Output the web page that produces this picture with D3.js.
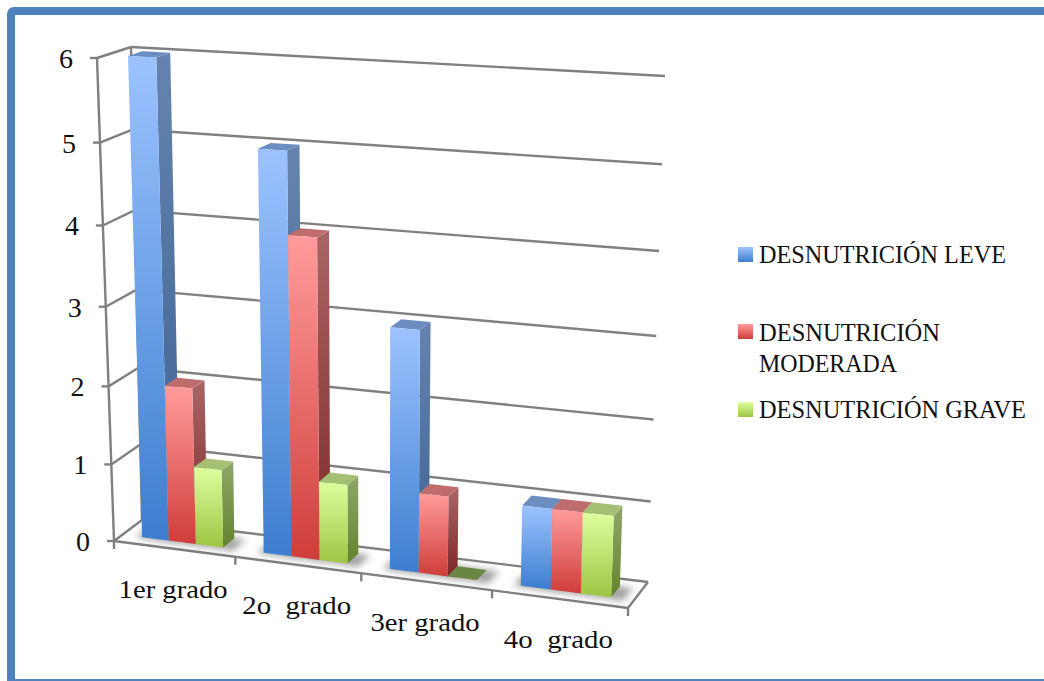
<!DOCTYPE html>
<html>
<head>
<meta charset="utf-8">
<title>Desnutrición por grado</title>
<script src="https://cdn.jsdelivr.net/npm/d3@7"></script>
<style>
  html, body { margin: 0; padding: 0; background: #fff; }
  svg { display: block; }
  text { font-family: "Liberation Serif", serif; fill: #111; }
</style>
</head>
<body>
<svg id="chart" width="1044" height="681"></svg>
<script>
// Chart values
const categories = ["1er grado", "2o  grado", "3er grado", "4o  grado"];
const seriesNames = ["DESNUTRICIÓN LEVE", "DESNUTRICIÓN MODERADA", "DESNUTRICIÓN GRAVE"];
const leve = [6, 5, 3, 1];
const moderada = [2, 4, 1, 1];
const grave = [1, 1, 0, 1];
const valueTicks = [0, 1, 2, 3, 4, 5, 6];

const seriesValues = [leve, moderada, grave];

// Face colours for each series: front gradient, side gradient, top
const palette = [
  { front: ["#9cc3ff", "#3d7ecf"], side: ["#6583ae", "#3b6293"], top: "#6c8dbf" },
  { front: ["#ff9c9b", "#cf3d3a"], side: ["#a86665", "#7d2827"], top: "#bf6d6c" },
  { front: ["#deff9f", "#9dc543"], side: ["#8fa76a", "#63842d"], top: "#a5bf74" }
];
const flatTop = "#6b8542";

const svg = d3.select("#chart");
const defs = svg.append("defs");

// Vertical gradients, one pair per series
palette.forEach((p, i) => {
  ["front", "side"].forEach(face => {
    const g = defs.append("linearGradient")
      .attr("id", `${face}${i}`)
      .attr("x1", 0).attr("y1", 0).attr("x2", 0).attr("y2", 1);
    g.append("stop").attr("offset", "0%").attr("stop-color", p[face][0]);
    g.append("stop").attr("offset", "100%").attr("stop-color", p[face][1]);
  });
});
defs.append("filter").attr("id", "soft")
  .attr("x", "-40%").attr("y", "-80%").attr("width", "180%").attr("height", "260%")
  .append("feGaussianBlur").attr("stdDeviation", 3.5);

// Page frame
svg.append("rect")
  .attr("x", 11).attr("y", 11)
  .attr("width", 1100).attr("height", 672)
  .attr("rx", 3)
  .attr("fill", "#fff")
  .attr("stroke", "#4f81bd")
  .attr("stroke-width", 8);

// Perspective map from the unit square onto a screen quad
function quadMap(p00, p10, p11, p01) {
  const dx1 = p10[0] - p11[0], dx2 = p01[0] - p11[0], sx = p00[0] - p10[0] + p11[0] - p01[0];
  const dy1 = p10[1] - p11[1], dy2 = p01[1] - p11[1], sy = p00[1] - p10[1] + p11[1] - p01[1];
  const det = dx1 * dy2 - dx2 * dy1;
  const g = (sx * dy2 - dx2 * sy) / det;
  const h = (dx1 * sy - sx * dy1) / det;
  const a = p10[0] - p00[0] + g * p10[0], b = p01[0] - p00[0] + h * p01[0], c = p00[0];
  const d = p10[1] - p00[1] + g * p10[1], e = p01[1] - p00[1] + h * p01[1], f = p00[1];
  return (u, v) => {
    const w = g * u + h * v + 1;
    return [(a * u + b * v + c) / w, (d * u + e * v + f) / w];
  };
}

// Front and back planes of the plot box: (along category axis, up value axis)
const frontPlane = quadMap([114, 541], [628, 608], [644, 89], [97, 58]);
const backPlane = quadMap([142, 520], [648, 582], [665, 76], [131, 47]);

const project = (s, v, d) => {
  const a = frontPlane(s, v), b = backPlane(s, v);
  return [a[0] + (b[0] - a[0]) * d, a[1] + (b[1] - a[1]) * d];
};

const valueScale = d3.scaleLinear().domain([0, 6]).range([0, 1]);
const catScale = d3.scaleBand().domain(categories).range([0, 1]);
const seriesScale = d3.scaleBand().domain(d3.range(3))
  .range([catScale.step() * 0.165, catScale.step() * 0.835]);

const barDepth = [0.3, 0.72];
const pts = arr => arr.map(p => p.map(n => n.toFixed(1)).join(",")).join(" ");
const line = (g, a, b) => g.append("line")
  .attr("x1", a[0]).attr("y1", a[1]).attr("x2", b[0]).attr("y2", b[1]);

// Walls and floor outline
const frame = svg.append("g").attr("stroke", "#808080").attr("stroke-width", 2.4).attr("fill", "none");
valueTicks.forEach(t => {
  const v = valueScale(t);
  line(frame, project(0, v, 1), project(1, v, 1));
  line(frame, project(0, v, 0), project(0, v, 1));
  const p = project(0, v, 0);
  line(frame, [p[0] - 7, p[1]], p);
});
line(frame, project(0, 0, 0), project(0, 1, 0));
line(frame, project(0, 0, 0), project(1, 0, 0));
line(frame, project(1, 0, 0), project(1, 0, 1));
line(frame, project(0, 0, 1), project(0, 1, 1));
d3.range(categories.length + 1).forEach(i => {
  const p = project(i * catScale.step(), 0, 0);
  line(frame, p, [p[0], p[1] + 8]);
});

// Value axis labels
svg.append("g").selectAll("text").data(valueTicks).join("text")
  .attr("x", t => project(0, valueScale(t), 0)[0] - 31)
  .attr("y", t => project(0, valueScale(t), 0)[1] + 10)
  .attr("text-anchor", "middle")
  .attr("font-size", 28)
  .text(t => t);

// Category labels
const labelGroup = svg.append("g");
labelGroup.selectAll("text").data(categories).join("text")
  .attr("x", c => project(catScale(c) + catScale.bandwidth() / 2, 0, 0)[0] - 1)
  .attr("y", c => project(catScale(c) + catScale.bandwidth() / 2, 0, 0)[1] + 49)
  .attr("text-anchor", "middle")
  .attr("font-size", 26)
  .attr("xml:space", "preserve")
  .attr("textLength", 109)
  .attr("lengthAdjust", "spacingAndGlyphs")
  .style("white-space", "pre")
  .text(c => c);

// Bars, painted left to right so nearer faces overlap correctly
const barRecords = categories.flatMap((c, ci) =>
  seriesNames.map((_, si) => ({ c, si, value: seriesValues[si][ci] })));

function corners(r) {
  const s0 = catScale(r.c) + seriesScale(r.si);
  const s1 = s0 + seriesScale.bandwidth();
  const [d0, d1] = barDepth;
  const v = valueScale(r.value);
  return { s0, s1, d0, d1, v };
}

svg.append("g").attr("filter", "url(#soft)").attr("opacity", 0.42)
  .selectAll("polygon").data(barRecords).join("polygon")
  .attr("fill", "#222")
  .attr("points", r => {
    const { s0, s1, d0, d1 } = corners(r);
    const e = 0.012;
    return pts([project(s0 - e, 0, d0 - 0.03), project(s1 + e * 2, 0, d0 - 0.08),
                project(s1 + e * 2, 0, d1), project(s0 - e, 0, d1)]);
  });

const bars = svg.append("g").selectAll("g").data(barRecords).join("g");

bars.append("polygon")
  .attr("fill", r => `url(#side${r.si})`)
  .attr("points", r => {
    const { s1, d0, d1, v } = corners(r);
    return pts([project(s1, v, d0), project(s1, v, d1), project(s1, 0, d1), project(s1, 0, d0)]);
  });
bars.append("polygon")
  .attr("fill", r => r.value === 0 ? flatTop : palette[r.si].top)
  .attr("points", r => {
    const { s0, s1, d0, d1, v } = corners(r);
    return pts([project(s0, v, d0), project(s1, v, d0), project(s1, v, d1), project(s0, v, d1)]);
  });
bars.append("polygon")
  .attr("fill", r => `url(#front${r.si})`)
  .attr("points", r => {
    const { s0, s1, d0, v } = corners(r);
    return pts([project(s0, v, d0), project(s1, v, d0), project(s1, 0, d0), project(s0, 0, d0)]);
  });

// Legend
const legendRows = [
  { lines: [seriesNames[0]], swatchY: 247, baseY: [263], widths: [247] },
  { lines: ["DESNUTRICIÓN", "MODERADA"], swatchY: 324, baseY: [341, 372], widths: [181, 138] },
  { lines: [seriesNames[2]], swatchY: 402, baseY: [418], widths: [267] }
];
const legend = svg.append("g");
legendRows.forEach((row, i) => {
  legend.append("rect")
    .attr("x", 738).attr("y", row.swatchY)
    .attr("width", 15).attr("height", 15)
    .attr("fill", `url(#front${i})`);
  row.lines.forEach((txt, j) => {
    legend.append("text")
      .attr("x", 759).attr("y", row.baseY[j])
      .attr("font-size", 26)
      .attr("textLength", row.widths[j])
      .attr("lengthAdjust", "spacingAndGlyphs")
      .text(txt);
  });
});
</script>
</body>
</html>
